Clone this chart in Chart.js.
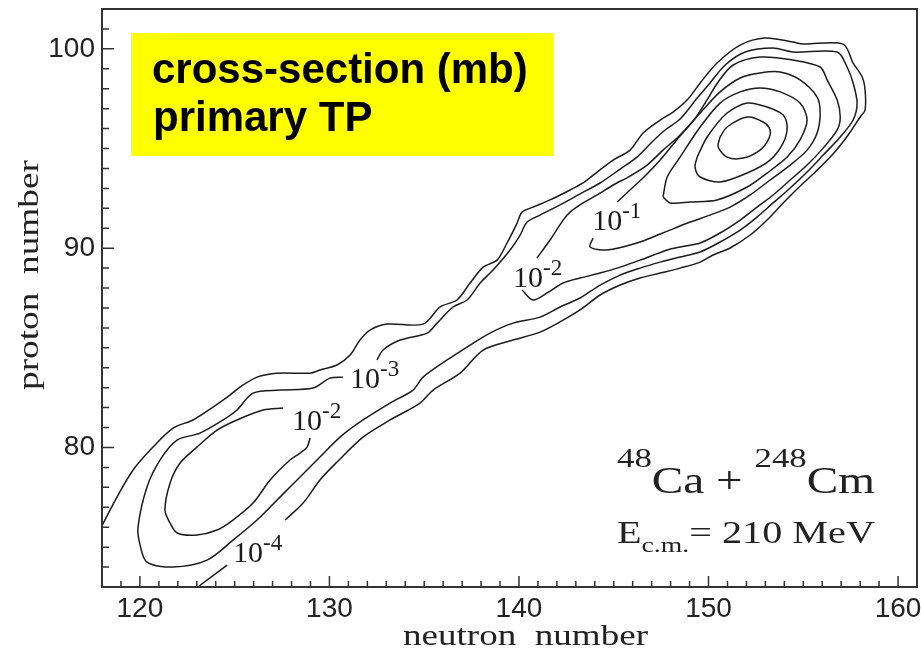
<!DOCTYPE html>
<html>
<head>
<meta charset="utf-8">
<script src="https://cdn.jsdelivr.net/npm/chart.js@4.4.1/dist/chart.umd.min.js"></script>
<style>
  html, body { margin: 0; padding: 0; background: #fff; }
  #wrap { width: 921px; height: 656px; position: relative; }
</style>
</head>
<body>
<div id="wrap"><canvas id="chart"></canvas></div>
<script>
// Axis ranges and labelled ticks
const xRange = [118, 161];
const yRange = [73, 102];
const xTickLabels = [120, 130, 140, 150, 160];
const yTickLabels = [80, 90, 100];

// Contour lines as [neutron, proton] pairs
const contour1e4 = [
  [117.9, 75.9], [118.79, 77.51], [119.64, 78.87], [120.69, 80.02], [121.75, 80.97], [122.80, 81.38],
  [123.86, 82.03], [124.75, 82.63], [125.28, 83.03], [126.18, 83.53], [127.23, 83.73], [128.98, 83.73],
  [129.50, 83.89], [130.40, 84.14], [131.09, 84.64], [131.61, 85.39], [132.14, 85.89], [133.04, 86.19],
  [134.94, 86.19], [135.84, 87.05], [136.73, 87.40], [137.42, 88.25], [138.11, 89.05], [138.84, 89.40],
  [139.37, 90.26], [139.90, 91.26], [140.16, 91.81], [140.74, 92.06], [141.64, 92.42], [142.70, 92.92],
  [143.38, 93.27], [144.12, 93.82], [144.97, 94.42], [145.86, 94.92], [146.55, 95.78], [147.45, 96.43],
  [148.13, 96.83], [148.87, 97.43], [149.56, 98.29], [150.45, 99.29], [151.67, 100.19], [152.99, 100.54],
  [154.46, 100.34], [154.99, 100.24], [157.10, 100.24], [157.63, 99.29], [158.11, 98.59], [158.26, 97.94],
  [158.26, 96.93], [158.00, 96.58], [157.37, 95.68], [156.52, 94.67], [155.63, 93.82], [154.73, 93.02],
  [153.94, 92.27], [153.09, 91.41], [152.20, 90.66], [151.14, 90.01], [150.24, 89.66], [149.56, 89.30],
  [148.50, 89.00], [147.45, 88.75], [146.39, 88.50], [145.34, 88.15], [144.28, 87.65], [143.22, 86.90],
  [142.33, 86.39], [141.11, 85.79], [139.69, 85.39], [138.11, 84.89], [136.89, 83.73], [135.47, 82.88],
  [134.78, 82.23], [133.20, 81.38], [131.77, 80.52], [130.40, 79.27], [129.50, 78.37], [128.61, 77.21],
  [127.66, 76.36]
];
const contour1e4Tail = [[124.60, 74.10], [123.12, 73.05], [122.9, 72.9]];

const contour1e3 = [
  [132.51, 84.39], [132.83, 84.89], [133.73, 85.39], [135.15, 85.74], [135.68, 86.24], [136.52, 87.05],
  [137.26, 87.40], [137.95, 88.25], [138.63, 88.90], [139.53, 89.91], [140.06, 90.66], [140.43, 91.31],
  [141.11, 91.66], [142.17, 92.17], [143.22, 92.72], [144.28, 93.27], [145.34, 93.97], [146.23, 94.57],
  [147.02, 95.33], [147.71, 95.93], [148.50, 96.48], [149.40, 97.53], [150.08, 98.29], [150.88, 99.19],
  [151.93, 99.84], [153.41, 100.04], [154.46, 99.84], [156.79, 99.84], [157.31, 99.09], [157.63, 98.29],
  [157.84, 97.28], [157.63, 96.43], [156.95, 95.58], [156.05, 94.67], [155.20, 93.82], [154.31, 93.02],
  [153.41, 92.27], [152.56, 91.56], [151.67, 90.91], [150.61, 90.31], [149.56, 89.81], [148.50, 89.56],
  [147.45, 89.30], [146.39, 89.00], [145.34, 88.65], [144.28, 88.15], [143.22, 87.50], [142.17, 87.05],
  [141.11, 86.54], [139.69, 86.24], [138.47, 85.74], [137.26, 85.04], [136.21, 84.39], [134.94, 83.53],
  [134.41, 82.88], [133.20, 82.23], [131.77, 81.38], [130.56, 80.52], [129.50, 79.52], [128.45, 78.52],
  [127.39, 77.51], [126.18, 76.36], [124.91, 75.35], [123.54, 74.35], [121.75, 74.00], [120.37, 74.25],
  [120.01, 75.10], [119.90, 76.01], [120.37, 78.01], [121.06, 79.37], [121.96, 80.37], [123.17, 80.72],
  [124.39, 81.38], [125.12, 81.88], [125.97, 82.73], [127.39, 82.88], [129.13, 82.98], [130.03, 83.48],
  [130.72, 83.53]
];

const contour1e2Low = [
  [127.55, 81.98], [126.50, 81.88], [125.12, 81.38], [124.07, 80.87], [123.01, 80.02], [122.12, 79.22],
  [121.59, 78.21], [121.32, 76.86], [121.59, 76.21], [121.96, 75.71], [123.01, 75.61], [124.07, 75.86],
  [124.91, 76.36], [125.97, 77.21], [126.87, 78.37], [127.92, 79.37], [128.45, 79.72], [128.82, 80.02],
  [128.98, 80.47]
];

const contour1e2High = [
  [140.95, 89.51], [141.64, 90.41], [142.33, 91.41], [142.70, 91.81], [143.38, 92.27], [144.12, 92.67],
  [144.97, 93.17], [145.86, 93.62], [146.76, 94.17], [147.60, 94.92], [148.34, 95.53], [149.19, 96.38],
  [149.82, 97.28], [150.51, 98.34], [151.30, 99.19], [152.72, 99.59], [154.46, 99.44], [155.89, 99.09],
  [156.26, 98.44], [156.79, 97.43], [156.95, 96.58], [156.79, 95.93], [156.05, 95.02], [155.20, 94.17],
  [154.31, 93.42], [153.41, 92.67], [152.56, 92.06], [151.67, 91.41], [150.61, 90.76], [149.56, 90.26],
  [148.50, 90.06], [147.82, 89.91], [146.39, 89.40], [145.34, 89.05], [144.28, 88.75], [143.22, 88.50],
  [142.33, 88.25], [141.48, 87.75], [140.74, 87.40], [140.16, 87.90]
];

const contour1e1 = [
  [145.18, 92.32], [145.86, 92.92], [146.65, 93.62], [147.45, 94.42], [148.50, 95.63], [149.56, 96.78],
  [150.61, 97.84], [151.67, 98.54], [152.72, 98.79], [153.78, 98.84], [154.83, 98.44], [155.73, 97.58],
  [155.89, 96.78], [155.73, 95.78], [155.20, 94.92], [154.31, 94.17], [153.25, 93.42], [152.20, 92.67],
  [151.14, 92.06], [150.08, 91.66], [149.03, 91.31], [147.45, 90.71], [146.23, 90.26], [144.65, 89.91],
  [143.75, 90.06], [143.91, 90.51]
];

const contourRing5 = [
  [147.60, 92.57], [147.82, 93.57], [148.50, 94.57], [149.56, 96.08], [150.61, 97.28], [151.67, 97.84],
  [152.72, 98.04], [153.78, 97.84], [154.83, 97.28], [155.20, 96.43], [154.83, 95.43], [154.15, 94.57],
  [153.09, 93.77], [152.04, 93.07], [150.45, 92.42], [149.03, 92.32], [147.97, 92.27], [147.60, 92.57]
];

const contourRing6 = [
  [149.40, 94.57], [149.93, 95.58], [150.98, 96.78], [152.04, 97.28], [153.09, 97.08], [153.94, 96.68],
  [154.15, 96.08], [153.94, 95.28], [153.25, 94.42], [152.04, 93.77], [150.61, 93.32], [149.56, 93.57],
  [149.29, 94.07], [149.40, 94.57]
];

const contourRing7 = [
  [150.61, 95.58], [150.98, 96.08], [152.04, 96.58], [152.88, 96.33], [153.25, 95.93], [153.15, 95.43],
  [152.72, 94.92], [151.83, 94.52], [150.98, 94.57], [150.51, 95.08], [150.61, 95.58]
];

// Contour level labels: anchor (left, baseline) and exponent
const labelN = [124.91, 131.09, 128.03, 139.69, 143.86];
const labelZ = [74.25, 82.98, 80.87, 88.05, 90.91];
const labelExp = ['-4', '-3', '-2', '-2', '-1'];

const contours = [contour1e4, contour1e4Tail, contour1e3, contour1e2Low, contour1e2High,
                  contour1e1, contourRing5, contourRing6, contourRing7];

const LINE = '#1c1c1c';
const SERIF = '"Liberation Serif", "Times New Roman", serif';
const SANS = '"Liberation Sans", Arial, sans-serif';

// draw a row of text runs squeezed/stretched to a given width
function drawRuns(ctx, runs, xLeft, baseline, targetWidth) {
  let total = 0;
  runs.forEach(r => {
    ctx.font = r.size + 'px ' + SERIF;
    r.w = ctx.measureText(r.t).width;
    total += r.w;
  });
  ctx.save();
  ctx.translate(xLeft, baseline);
  ctx.scale(targetWidth / total, 1);
  let x = 0;
  runs.forEach(r => {
    ctx.font = r.size + 'px ' + SERIF;
    ctx.fillText(r.t, x, r.dy || 0);
    x += r.w;
  });
  ctx.restore();
}

// keep the plot box where the original has it
function noPad(s) {
  s.paddingTop = 0;
  s.paddingBottom = 0;
  s.paddingLeft = 0;
  s.paddingRight = 0;
}

const decor = {
  id: 'decor',
  beforeDraw(chart) {
    const ctx = chart.ctx;
    ctx.save();
    ctx.fillStyle = '#fff';
    ctx.fillRect(0, 0, chart.width, chart.height);
    ctx.restore();
  },
  afterDraw(chart) {
    const { ctx, chartArea: a, scales: { x, y } } = chart;
    ctx.save();

    // inward tick marks, one per unit
    ctx.strokeStyle = '#333';
    ctx.lineWidth = 1.5;
    ctx.beginPath();
    for (let v = Math.ceil(x.min); v < x.max; v++) {
      if (v === x.min) continue;
      const px = x.getPixelForValue(v);
      const len = v % 10 === 0 ? 11 : 6;
      ctx.moveTo(px, a.bottom);
      ctx.lineTo(px, a.bottom - len);
    }
    for (let v = Math.ceil(y.min); v < y.max; v++) {
      if (v === y.min) continue;
      const py = y.getPixelForValue(v);
      const len = v % 10 === 0 ? 12 : 7;
      ctx.moveTo(a.left, py);
      ctx.lineTo(a.left + len, py);
    }
    ctx.stroke();

    // frame
    ctx.lineWidth = 2;
    ctx.strokeRect(a.left, a.top, a.right - a.left, a.bottom - a.top);

    // contour level labels
    ctx.fillStyle = '#1c1c1c';
    ctx.textBaseline = 'alphabetic';
    ctx.textAlign = 'left';
    for (let i = 0; i < labelN.length; i++) {
      const px = x.getPixelForValue(labelN[i]);
      const py = y.getPixelForValue(labelZ[i]);
      ctx.font = '30px ' + SERIF;
      ctx.fillText('10', px, py);
      const w = ctx.measureText('10').width;
      ctx.font = '23px ' + SERIF;
      ctx.fillText(labelExp[i], px + w, py - 12);
    }

    // axis titles (stretched serif like the original)
    ctx.fillStyle = '#222';
    drawRuns(ctx, [{ t: 'neutron  number', size: 29 }], 403, 645, 245);
    ctx.save();
    ctx.translate(38, 390);
    ctx.rotate(-Math.PI / 2);
    drawRuns(ctx, [{ t: 'proton  number', size: 29 }], 0, 0, 230);
    ctx.restore();

    // reaction annotation
    drawRuns(ctx, [
      { t: '48', size: 28, dy: -26 },
      { t: 'Ca + ', size: 38 },
      { t: '248', size: 28, dy: -26 },
      { t: 'Cm', size: 38 }
    ], 617, 493, 258);
    drawRuns(ctx, [
      { t: 'E', size: 32 },
      { t: 'c.m.', size: 22, dy: 9 },
      { t: '= 210 MeV', size: 32 }
    ], 617, 543, 258);

    // yellow caption box
    ctx.fillStyle = '#ffff00';
    ctx.fillRect(a.left + 29, a.top + 24, 423, 123);
    ctx.fillStyle = '#000';
    ctx.font = 'bold 42px ' + SANS;
    ctx.fillText('cross-section (mb)', a.left + 50, a.top + 74);
    ctx.fillText('primary TP', a.left + 51, a.top + 122);

    ctx.restore();
  }
};

new Chart(document.getElementById('chart'), {
  type: 'scatter',
  data: {
    datasets: contours.map(c => ({
      data: c.map(p => ({ x: p[0], y: p[1] })),
      showLine: true,
      pointRadius: 0,
      borderColor: LINE,
      borderWidth: 1.5,
      tension: 0.3,
      fill: false
    }))
  },
  options: {
    responsive: true,
    maintainAspectRatio: false,
    animation: false,
    layout: { padding: { top: 9, right: 4, left: 0, bottom: 0 } },
    plugins: { legend: { display: false }, tooltip: { enabled: false } },
    scales: {
      x: {
        type: 'linear',
        min: xRange[0],
        max: xRange[1],
        afterBuildTicks: s => { s.ticks = xTickLabels.map(v => ({ value: v })); },
        afterFit: s => { s.height = 69; noPad(s); },
        grid: { display: false, drawTicks: false },
        border: { display: false },
        ticks: { padding: 5, color: '#222', font: { family: SANS, size: 28 } }
      },
      y: {
        type: 'linear',
        min: yRange[0],
        max: yRange[1],
        afterBuildTicks: s => { s.ticks = yTickLabels.map(v => ({ value: v })); },
        afterFit: s => { s.width = 102; noPad(s); },
        grid: { display: false, drawTicks: false },
        border: { display: false },
        ticks: { padding: 7, color: '#222', font: { family: SANS, size: 28 } }
      }
    }
  },
  plugins: [decor]
});
</script>
</body>
</html>
